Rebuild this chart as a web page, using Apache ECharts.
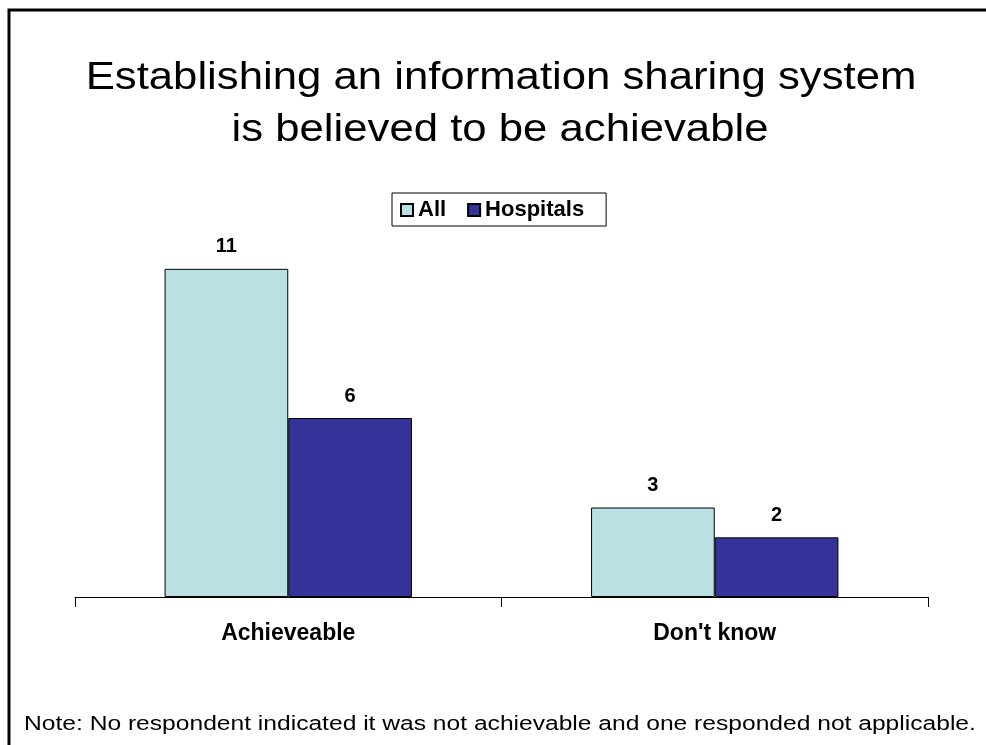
<!DOCTYPE html>
<html>
  <head>
    <meta charset="utf-8" />
    <title>ECharts</title>
    <script src="https://cdn.jsdelivr.net/npm/echarts@6/dist/echarts.min.js"></script>
    <style>
      html, body { margin: 0; padding: 0; background: #fff; }
    </style>
  </head>
  <body>
    <div id="main" style="width: 986px; height: 745px"></div>
    <script>
      // data
      var categories = ["Achieveable", "Don't know"];
      var seriesNames = ["All", "Hospitals"];
      var allValues = [11, 3];
      var hospitalValues = [6, 2];
      var titleLines = ["Establishing an information sharing system", "is believed to be achievable"];
      var noteText = "Note: No respondent indicated it was not achievable and one responded not applicable.";

      var myChart = echarts.init(document.getElementById("main"));

      // the source text is drawn a bit wide, so labels use larger sizes
      var labelStyle = {
        show: true,
        position: "top",
        distance: 12,
        color: "#000",
        fontFamily: "Liberation Sans",
        fontWeight: "bold",
        fontSize: 20
      };

      var option = {
        backgroundColor: "#fff",
        animation: false,
        legend: {
          data: seriesNames,
          left: 392,
          top: 193,
          padding: [6, 22, 5, 8],
          borderColor: "#000",
          borderWidth: 1,
          itemWidth: 12,
          itemHeight: 12,
          itemGap: 21,
          icon: "rect",
          textStyle: {
            fontFamily: "Liberation Sans",
            fontWeight: "bold",
            fontSize: 22,
            color: "#000"
          }
        },
        grid: {
          left: 75,
          right: 58,
          top: 239,
          bottom: 148
        },
        xAxis: {
          type: "category",
          data: categories,
          axisLine: { lineStyle: { color: "#000", width: 1 } },
          axisTick: { show: true, length: 10, lineStyle: { color: "#000" } },
          axisLabel: {
            margin: 25,
            color: "#000",
            fontFamily: "Liberation Sans",
            fontWeight: "bold",
            fontSize: 23
          }
        },
        yAxis: {
          type: "value",
          min: 0,
          max: 12,
          show: false,
          splitLine: { show: false }
        },
        series: [
          {
            name: "All",
            type: "bar",
            data: allValues,
            barGap: "0%",
            barCategoryGap: "42%",
            itemStyle: { color: "#BBE0E3", borderColor: "#000", borderWidth: 1 },
            label: labelStyle
          },
          {
            name: "Hospitals",
            type: "bar",
            data: hospitalValues,
            itemStyle: { color: "#333399", borderColor: "#000", borderWidth: 1 },
            label: labelStyle
          }
        ],
        graphic: [
          {
            type: "polyline",
            shape: { points: [[9, 760], [9, 10], [990, 10]] },
            style: { stroke: "#000", lineWidth: 3, fill: null }
          },
          {
            type: "text",
            x: 501,
            y: 79,
            scaleX: 1.15,
            style: {
              text: titleLines[0],
              fill: "#000",
              font: "38px 'Liberation Sans'",
              align: "center",
              verticalAlign: "middle"
            }
          },
          {
            type: "text",
            x: 500,
            y: 131,
            scaleX: 1.15,
            style: {
              text: titleLines[1],
              fill: "#000",
              font: "38px 'Liberation Sans'",
              align: "center",
              verticalAlign: "middle"
            }
          },
          {
            type: "text",
            x: 24,
            y: 724,
            scaleX: 1.23,
            style: {
              text: noteText,
              fill: "#000",
              font: "20px 'Liberation Sans'",
              align: "left",
              verticalAlign: "middle"
            }
          }
        ]
      };

      myChart.setOption(option);
    </script>
  </body>
</html>
